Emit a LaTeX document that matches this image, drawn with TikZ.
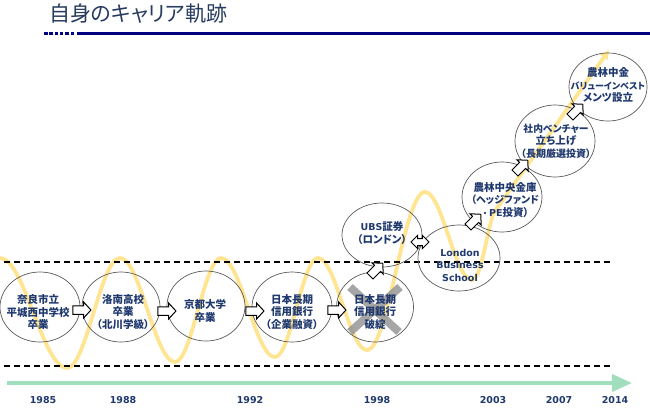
\documentclass[tikz,border=0pt]{standalone}
\usepackage{fontspec}
\newfontfamily\jp[RawFeature=+palt]{Noto Sans CJK JP}
\newfontfamily\jpfull{Noto Sans CJK JP}
\newfontfamily\lat{DejaVu Sans}
\usetikzlibrary{shapes.geometric,shapes.arrows,arrows.meta}
\definecolor{navytxt}{RGB}{31,56,110}
\definecolor{titlenavy}{RGB}{0,0,128}
\definecolor{titletxt}{RGB}{40,60,95}
\definecolor{wavey}{RGB}{255,228,145}
\definecolor{mint}{RGB}{160,222,190}
\definecolor{xgray}{RGB}{150,150,150}
\definecolor{ringgray}{RGB}{90,90,90}
\newcommand{\shaft}[1]{\rule{0pt}{#1}}
\newcommand{\fsz}[1]{\fontsize{#1}{12.5}\selectfont}
\begin{document}
\begin{tikzpicture}[x=1pt,y=-1pt,
  ring/.style={ellipse,draw=ringgray,line width=0.7pt,inner sep=0pt},
  txt/.style={align=center,text=navytxt,font=\jp\bfseries\fontsize{10.5}{12.5}\selectfont,inner sep=0pt},
  lattxt/.style={align=center,text=navytxt,font=\lat\bfseries\fontsize{9.5}{12.5}\selectfont,inner sep=0pt},
  yr/.style={text=navytxt,font=\lat\bfseries\fontsize{9.5}{11}\selectfont,inner sep=0pt},
  barrow/.style={single arrow,draw=black,fill=white,line width=1pt,single arrow head extend=3.8pt,minimum height=18pt,inner sep=0pt,single arrow tip angle=95},
  darrow/.style={double arrow,draw=black,fill=white,line width=1pt,double arrow head extend=3.2pt,minimum height=18pt,inner sep=0pt},
  levelline/.style={draw=black,line width=1.8pt,dash pattern=on 6pt off 4pt},
  waveline/.style={draw=wavey,line width=3.8pt,line cap=round,line join=round},
  crossline/.style={draw=xgray,line width=8pt,opacity=0.85}
]
\useasboundingbox (0,0) rectangle (650,413);

% title
\node[anchor=base west,inner sep=0pt,text=titletxt,font=\jp\fontsize{21}{24}\selectfont] (title) at (49,21) {自身のキャリア軌跡};
\foreach \i in {0,...,5}{\fill[titlenavy] (44+\i*5.3,31.8) rectangle ++(3.5,3.5);}
\coordinate (tl1) at (77,33.5);
\coordinate (tl2) at (650,33.5);
\draw[titlenavy,line width=3.5pt] (tl1) -- (tl2);

% yellow wave
\coordinate (wtip) at (609,50);
\draw[waveline,-{Triangle[length=9pt,width=9pt]}]
  (0,258) cos (33.5,313) sin (67,368) cos (93.5,313) sin (120,258)
  cos (147.5,310) sin (175,362) cos (198,310) sin (221,258)
  cos (248,307.5) sin (275,357) cos (296.5,307.5) sin (318,258)
  cos (342.5,304) sin (367,350) cos (396,271) sin (425,192)
  cos (448.5,236) sin (472,280)
  .. controls (482,280) and (488,221) .. (495,211) -- (wtip);

% level lines
\coordinate (u1) at (4,262); \coordinate (u2) at (613,262);
\coordinate (l1) at (4,366); \coordinate (l2) at (613,366);
\draw[levelline] (u1) -- (u2);
\draw[levelline] (l1) -- (l2);

% time arrow
\coordinate (g1) at (7,383); \coordinate (g2) at (632,383);
\draw[mint,line width=4pt,-{Triangle[length=20pt,width=17pt]}] (g1) -- (g2);

% years
\node[yr] (y1) at (43,400) {1985};
\node[yr] (y2) at (123,400) {1988};
\node[yr] (y3) at (250,400) {1992};
\node[yr] (y4) at (377,400) {1998};
\node[yr] (y5) at (493,400) {2003};
\node[yr] (y6) at (559,400) {2007};
\node[yr] (y7) at (615,400) {2014};

% rings
\node[ring,minimum width=80pt,minimum height=70pt] (e1) at (40,307) {};
\node[ring,minimum width=78pt,minimum height=70pt] (e2) at (121,307) {};
\node[ring,minimum width=78pt,minimum height=70pt] (e3) at (206,306) {};
\node[ring,minimum width=80pt,minimum height=70pt] (e4) at (292,307) {};
\node[ring,minimum width=77pt,minimum height=70pt] (e5) at (375,307) {};
\node[ring,minimum width=80pt,minimum height=64pt] (e6) at (382,235) {};
\node[ring,minimum width=82pt,minimum height=66pt] (e7) at (459,258) {};
\node[ring,minimum width=80pt,minimum height=70pt] (e8) at (502,197) {};
\node[ring,minimum width=80pt,minimum height=72pt] (e9) at (555,141) {};
\node[ring,minimum width=78pt,minimum height=68pt] (e10) at (608,87) {};

% cross on failure
\coordinate (x1) at (350,287); \coordinate (x2) at (399,332);
\coordinate (x3) at (400,287); \coordinate (x4) at (350,332);
\draw[crossline] (x1) -- (x2);
\draw[crossline] (x3) -- (x4);

% texts
\node[txt] (t1) at (38,312) {奈良市立\\平城西中学校\\卒業};
\node[txt] (t2) at (123,312) {洛南高校\\卒業\\（北川学級）};
\node[txt] (t3) at (205,311) {京都大学\\卒業};
\node[txt] (t4) at (292,312) {日本長期\\信用銀行\\（企業融資）};
\node[txt] (t5) at (375,312) {日本長期\\信用銀行\\破綻};
\node[txt] (t6) at (382,233) {{\lat\fsz{9.5}UBS}証券\\（ロンドン）};
\node[lattxt] (t7) at (460,265) {London\\Business\\School};
\node[txt] (t8) at (505,200) {農林中央金庫\\{\fsz{10}（ヘッジファンド}\\{\jpfull\fsz{8}・}{\lat\fsz{9.5}PE}投資）};
\node[txt] (t9) at (556,141) {{\fsz{9.8}社内ベンチャー}\\立ち上げ\\{\fsz{10}（長期厳選投資）}};
\node[txt] (t10) at (608,85) {農林中金\\{\fsz{9}バリューインベスト}\\メンツ設立};

% block arrows
\node[barrow] (a1) at (80,310) {\shaft{7.5pt}};
\node[barrow] (a2) at (165,311) {\shaft{7.5pt}};
\node[barrow] (a3) at (253,311) {\shaft{7.5pt}};
\node[barrow] (a4) at (335,310) {\shaft{7.5pt}};
\node[barrow,rotate=45] (a5) at (375,271) {\shaft{7.5pt}};
\node[darrow] (a6) at (420,242) {\shaft{6pt}};
\node[barrow,rotate=45] (a7) at (473,222) {\shaft{7.5pt}};
\node[barrow,rotate=45] (a8) at (520,168) {\shaft{7.5pt}};
\node[barrow,rotate=45] (a9) at (575,112) {\shaft{7.5pt}};
\end{tikzpicture}
\end{document}
